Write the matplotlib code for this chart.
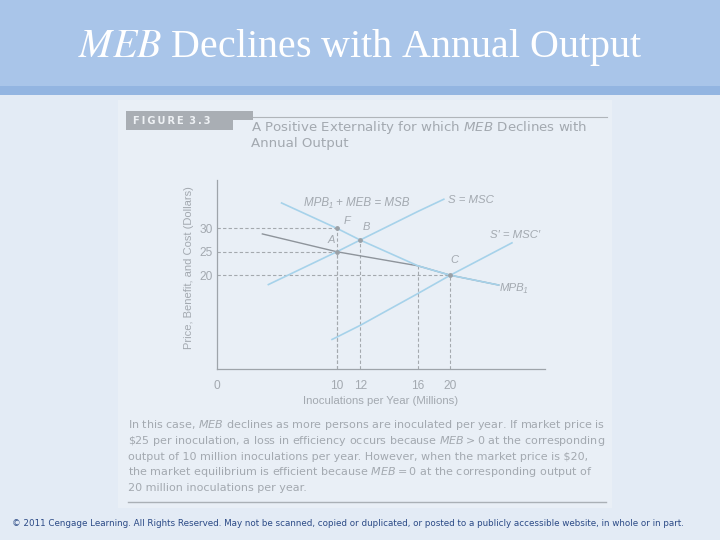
import numpy as np
import matplotlib
matplotlib.use('Agg')
import matplotlib.pyplot as plt
from matplotlib.patches import Rectangle, Polygon

plt.rcParams['mathtext.fontset'] = 'custom'
plt.rcParams['mathtext.rm'] = 'DejaVu Sans'
plt.rcParams['mathtext.it'] = 'DejaVu Sans:italic'

# chart data
x_ticks = [0, 10, 12, 16, 20]
y_ticks = [20, 25, 30]

msb_x = [5.4, 10, 12, 16, 20, 24.4]
msb_y = [35.4, 30, 27.5, 22, 20, 17.9]
mpb_x = [3.8, 10, 16, 20, 24.4]
mpb_y = [28.8, 25, 22, 20, 17.9]
msc_x = [4.3, 10, 12, 16, 19.2]
msc_y = [18.0, 25, 27.5, 33.6, 36.2]
msc2_x = [9.6, 10, 12, 16, 20, 25.6]
msc2_y = [6.3, 6.8, 9.3, 16.1, 20, 26.9]

pt_names = ['F', 'A', 'B', 'C']
pt_x = [10, 10, 12, 20]
pt_y = [30, 25, 27.5, 20]
pt_off = [(5, 2), (-7, 5), (2, 6), (0, 7)]

# the book's x axis is not drawn to scale -> piecewise scale
knot_v = [-10, 0, 10, 12, 16, 20, 50]
knot_p = [96.7, 216.7, 336.7, 360, 417.7, 450, 780]

def fwd(v):
    return np.interp(v, knot_v, knot_p)

def inv(p):
    return np.interp(p, knot_p, knot_v)

blue = '#a6d2ea'
grey_line = '#8e949b'
dash_c = '#a4a9ae'
txt_c = '#a3a9b0'

fig = plt.figure(figsize=(7.2, 5.4), dpi=100)
fig.patch.set_facecolor('#e3ebf5')

# slide decoration in pixel coordinates
bg = fig.add_axes([0, 0, 1, 1])
bg.set_xlim(0, 720)
bg.set_ylim(540, 0)
bg.axis('off')
bg.add_patch(Rectangle((0, 0), 720, 88, facecolor='#a9c5e9', edgecolor='none'))
bg.add_patch(Rectangle((0, 86), 720, 9, facecolor='#93b5e1', edgecolor='none'))
bg.add_patch(Rectangle((118, 100), 494, 408, facecolor='#e9eff6', edgecolor='none'))
bg.add_patch(Polygon([(126, 111), (253, 111), (253, 120), (233, 120), (233, 130), (126, 130)],
                     closed=True, facecolor='#a9aeb4', edgecolor='none'))
bg.plot([253, 607], [117, 117], color='#b0b5ba', lw=0.8)
bg.plot([128, 606], [502, 502], color='#aab0b6', lw=1.0)

bg.text(360, 47, r'$\mathit{MEB}$ Declines with Annual Output', ha='center', va='center',
        fontsize=28.8, color='white', family='Liberation Serif', math_fontfamily='stix')
bg.text(133, 121, '\u2009'.join('FIGURE') + '\u2009 ' + '\u2009'.join('3.3'),
        ha='left', va='center', fontsize=7.1, fontweight='bold', color='#eef1f4',
        family='DejaVu Sans')
bg.text(251, 127, r'A Positive Externality for which $\mathit{MEB}$ Declines with',
        ha='left', va='center', fontsize=9.6, color=txt_c, family='DejaVu Sans')
bg.text(251, 143, 'Annual Output', ha='left', va='center', fontsize=9.6,
        color=txt_c, family='DejaVu Sans')

caption = [
    r'In this case, $\mathit{MEB}$ declines as more persons are inoculated per year. If market price is',
    r'\$25 per inoculation, a loss in efficiency occurs because $\mathit{MEB} > 0$ at the corresponding',
    'output of 10 million inoculations per year. However, when the market price is $20,',
    r'the market equilibrium is efficient because $\mathit{MEB} = 0$ at the corresponding output of',
    '20 million inoculations per year.',
]
for i, line in enumerate(caption):
    bg.text(128, 425 + i * 15.8, line, ha='left', va='center', fontsize=8.0,
            color=txt_c, family='DejaVu Sans')

bg.text(12, 524, '\u00a9 2011 Cengage Learning. All Rights Reserved. May not be scanned, copied or '
        'duplicated, or posted to a publicly accessible website, in whole or in part.',
        ha='left', va='center', fontsize=6.35, color='#2b4a86', family='DejaVu Sans')

# the chart
ax = fig.add_axes([216.7 / 720, 1 - 369 / 540, (545 - 216.7) / 720, (369 - 180) / 540])
ax.set_xscale('function', functions=(fwd, inv))
ax.set_xlim(0, 28.6)
ax.set_ylim(0, 40.3)
ax.patch.set_alpha(0)
for s in ['top', 'right']:
    ax.spines[s].set_visible(False)
for s in ['left', 'bottom']:
    ax.spines[s].set_color('#9ea4aa')
    ax.spines[s].set_linewidth(0.9)

ax.set_xticks(x_ticks)
ax.set_xticklabels([str(v) for v in x_ticks])
ax.set_yticks(y_ticks)
ax.set_yticklabels([str(v) for v in y_ticks])
ax.tick_params(length=0, colors=txt_c, labelsize=8.6)
ax.tick_params(axis='x', pad=8)
ax.tick_params(axis='y', pad=3)
for lab in ax.get_xticklabels() + ax.get_yticklabels():
    lab.set_family('Liberation Sans')

ax.set_xlabel('Inoculations per Year (Millions)', fontsize=8.2, color=txt_c,
              family='Liberation Sans', labelpad=3)
ax.set_ylabel('Price, Benefit, and Cost (Dollars)', fontsize=8.0, color=txt_c,
              family='Liberation Sans')
ax.yaxis.set_label_coords(-0.07, 0.535)

# dashed guides
for px, py in zip(pt_x + [16], pt_y + [22]):
    ax.plot([px, px], [0, py], ls=(0, (3, 2)), color=dash_c, lw=0.8)
for px, py in zip([10, 10, 20], [30, 25, 20]):
    ax.plot([0, px], [py, py], ls=(0, (3, 2)), color=dash_c, lw=0.8)

ax.plot(mpb_x, mpb_y, color=grey_line, lw=1.0)
ax.plot(msc_x, msc_y, color=blue, lw=1.2)
ax.plot(msc2_x, msc2_y, color=blue, lw=1.2)
ax.plot(msb_x, msb_y, color=blue, lw=1.2)

ax.scatter(pt_x, pt_y, s=6, color='#9aa0a6', zorder=5)
for n, px, py, off in zip(pt_names, pt_x, pt_y, pt_off):
    ax.annotate(n, (px, py), xytext=off, textcoords='offset points', ha='left',
                va='bottom', fontsize=8, color=txt_c, style='italic',
                family='Liberation Sans')

ax.text(11.7, 35.5, 'MPB\u2081 + MEB = MSB', ha='center', va='center', fontsize=8.4,
        color=txt_c, style='italic', family='Liberation Sans')
ax.text(19.75, 36.0, 'S = MSC', ha='left', va='center', fontsize=8.2,
        color=txt_c, style='italic', family='Liberation Sans')
ax.text(23.6, 28.6, 'S\u2032 = MSC\u2032', ha='left', va='center', fontsize=8.2,
        color=txt_c, style='italic', family='Liberation Sans')
ax.text(24.5, 17.2, 'MPB\u2081', ha='left', va='center', fontsize=8.2,
        color=txt_c, style='italic', family='Liberation Sans')

fig.savefig('out.png', dpi=100, facecolor=fig.get_facecolor())
